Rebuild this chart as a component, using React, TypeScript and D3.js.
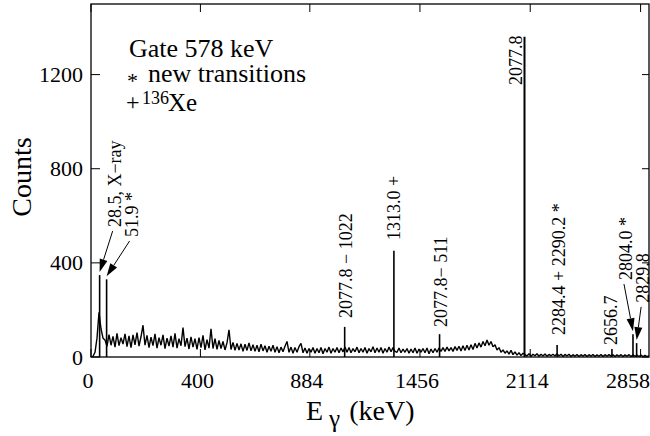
import React from 'react';
import * as d3 from 'd3';

// x-axis tick labels (keV) and y ticks
const xTickLabels = [0, 400, 884, 1456, 2114, 2858];
const yTickValues = [0, 400, 800, 1200];
// energy calibration: E = calA*c + calB*c^2 (c = channel unit)
const calA = 358;
const calB = 42;
const channelMax = 5.1;
const countMax = 1500;

// background counts, evenly spaced in channel from 0 to channelMax
const bgCounts = [
  0, 3, 20, 80, 190, 120, 80,
  72, 45, 95, 50, 88, 42, 100, 48, 82, 55, 98, 44, 90, 40, 94, 52, 104, 46, 86, 135,
  50, 92, 40, 84, 48, 98, 38, 82, 50, 94, 36, 80, 46, 90, 42, 100, 38, 78, 48, 125,
  44, 80, 34, 86, 42, 78, 32, 82, 40, 92, 30, 74, 38, 120, 36, 78, 32, 70, 36, 66, 30,
  60, 115, 32, 62, 28, 58, 30, 56, 24, 54, 28, 60, 26, 52, 24, 50, 22, 54, 26, 48,
  20, 46, 24, 50, 20, 44, 18, 42, 22, 46, 66, 20, 42, 16, 40, 20, 44,
  58, 18, 38, 16, 36, 20, 40, 16, 36, 18, 40, 14, 36, 20, 42, 16, 36, 20, 40, 18,
  38, 22, 42, 20, 40, 18, 36, 22, 42, 18, 36, 20, 40, 16, 36, 22, 44, 18, 38, 20,
  40, 16, 36, 20, 42, 22, 40, 24, 20, 38, 18, 34, 20, 36, 16, 34, 18, 38, 16, 34,
  20, 36, 18, 38, 14, 34, 18, 36, 20, 38,
  24, 40, 24, 42, 26, 40, 24, 44, 28, 46, 26, 48, 28, 50, 30, 52, 32, 58, 38, 60,
  42, 66, 48, 72, 50, 66, 44, 52, 30, 40,
  20, 30, 16, 26, 12, 28, 10, 22, 8, 18, 6, 16,
  10, 4, 14, 3, 12, 5, 14, 3, 12, 4, 13, 3, 11, 5, 12, 4, 14, 4, 12, 2,
  11, 4, 12, 2, 10, 3, 11, 2, 10, 3, 11, 2, 10, 3, 11, 2, 9, 3, 11, 2,
  10, 3, 10, 4, 10, 2, 9, 3, 10, 2, 9, 3, 10, 2, 9, 3, 8, 2, 8, 2, 7, 2, 5,
];

// peaks
const peakEnergies = [28.5, 51.9, 1055.8, 1313.0, 1566.8, 2077.8, 2287.3, 2656.7, 2804.0, 2829.8];
const peakCounts = [348, 330, 128, 451, 97, 1361, 51, 34, 97, 59];
const peakLabels = [
  '28.5, X\u2212ray', '51.9 *', '2077.8 \u2212 1022', '1313.0 +', '2077.8\u2212 511',
  '2077.8', '2284.4 + 2290.2 *', '2656.7', '2804.0 *', '2829.8',
];
// label offsets (px from peak x) and label bottom (counts)
const labelDx = [21, 31, 7, 6, 7.5, -2.5, 8, 5, -1, 12.5];
const labelBottom = [552, 510, 166, 497, 128, 1156, 94, 51, 327, 230];
const hasArrow = [true, true, false, false, false, false, false, false, true, true];

const W = 650;
const H = 436;
const left = 91;
const right = 649;
const top = 4;
const bottom = 357;
const serif = "'Liberation Serif', 'Times New Roman', serif";

const energyToChannel = (e: number) => (-calA + Math.sqrt(calA * calA + 4 * calB * e)) / (2 * calB);

export default function App() {
  const chan = d3.scaleLinear().domain([0, channelMax]).range([left, right]);
  const xE = (e: number) => chan(energyToChannel(e));
  const y = d3.scaleLinear().domain([0, countMax]).range([bottom, top]);

  const bgLine = d3
    .line<number>()
    .x((_, i) => chan((i * channelMax) / (bgCounts.length - 1)))
    .y((d) => y(d));

  const arrow = (x1: number, y1: number, x2: number, y2: number, key: string) => {
    const ang = Math.atan2(y2 - y1, x2 - x1);
    const L = 13;
    const hw = 4;
    const bx = x2 - L * Math.cos(ang);
    const by = y2 - L * Math.sin(ang);
    const px = -Math.sin(ang) * hw;
    const py = Math.cos(ang) * hw;
    return (
      <g key={key}>
        <line x1={x1} y1={y1} x2={bx} y2={by} stroke="#000" strokeWidth={1} />
        <polygon points={`${x2},${y2} ${bx + px},${by + py} ${bx - px},${by - py}`} fill="#000" />
      </g>
    );
  };

  return (
    <svg
      width={W}
      height={H}
      style={{ position: 'absolute', left: 0, top: 0, background: '#fff' }}
      fontFamily={serif}
    >
      <defs>
        <clipPath id="plotclip">
          <rect x={left} y={top} width={right - left} height={bottom - top} />
        </clipPath>
      </defs>
      {/* spectrum */}
      <g clipPath="url(#plotclip)">
        <path d={bgLine(bgCounts) || ''} fill="none" stroke="#000" strokeWidth={1.4} strokeLinejoin="bevel" />
        {peakEnergies.map((e, i) => (
          <line
            key={'p' + i}
            x1={xE(e)}
            x2={xE(e)}
            y1={y(0)}
            y2={y(peakCounts[i])}
            stroke="#000"
            strokeWidth={i === 5 ? 2 : 1.6}
          />
        ))}
      </g>
      {/* frame */}
      <rect x={left} y={top} width={right - left} height={bottom - top} fill="none" stroke="#000" strokeWidth={1.3} />
      {/* x ticks */}
      {xTickLabels.map((t, i) => {
        const last = i === xTickLabels.length - 1;
        return (
          <g key={'xt' + t}>
            <line x1={xE(t)} x2={xE(t)} y1={bottom} y2={bottom - 8} stroke="#000" strokeWidth={1} />
            <line x1={xE(t)} x2={xE(t)} y1={top} y2={top + 8} stroke="#000" strokeWidth={1} />
            <text x={last ? W : xE(t) - 3} y={388} fontSize={22} textAnchor={last ? 'end' : 'middle'}>
              {t}
            </text>
          </g>
        );
      })}
      {/* y ticks */}
      {yTickValues.map((t) => (
        <g key={'yt' + t}>
          <line x1={left} x2={left + 9} y1={y(t)} y2={y(t)} stroke="#000" strokeWidth={1} />
          <line x1={right} x2={right - 7} y1={y(t)} y2={y(t)} stroke="#000" strokeWidth={1} />
          <text x={83} y={y(t) + 7.5} fontSize={22} textAnchor="end">
            {t}
          </text>
        </g>
      ))}
      {/* axis titles */}
      <text transform="translate(31,177) rotate(-90)" fontSize={28} textAnchor="middle">
        Counts
      </text>
      <text x={306} y={420} fontSize={28}>
        E
        <tspan dx={6} dy={7} fontSize={25}>
          γ
        </tspan>
        <tspan dx={9} dy={-7}>
          (keV)
        </tspan>
      </text>
      {/* legend */}
      <text x={129} y={57} fontSize={26}>
        Gate 578 keV
      </text>
      <text x={127} y={88} fontSize={22}>
        *
      </text>
      <text x={148} y={82} fontSize={26}>
        new transitions
      </text>
      <text x={126} y={110} fontSize={24}>
        +
      </text>
      <text x={142} y={104} fontSize={18}>
        136
      </text>
      <text x={168} y={111} fontSize={25}>
        Xe
      </text>
      {/* peak labels */}
      {peakEnergies.map((e, i) => {
        const lx = xE(e) + labelDx[i];
        const ly = y(labelBottom[i]);
        return (
          <g key={'l' + i}>
            <text transform={`translate(${lx},${ly}) rotate(-90)`} fontSize={18}>
              {peakLabels[i]}
            </text>
            {hasArrow[i] && arrow(lx - 8, ly + 4, xE(e), y(peakCounts[i]) - 3, 'a' + i)}
          </g>
        );
      })}
    </svg>
  );
}
